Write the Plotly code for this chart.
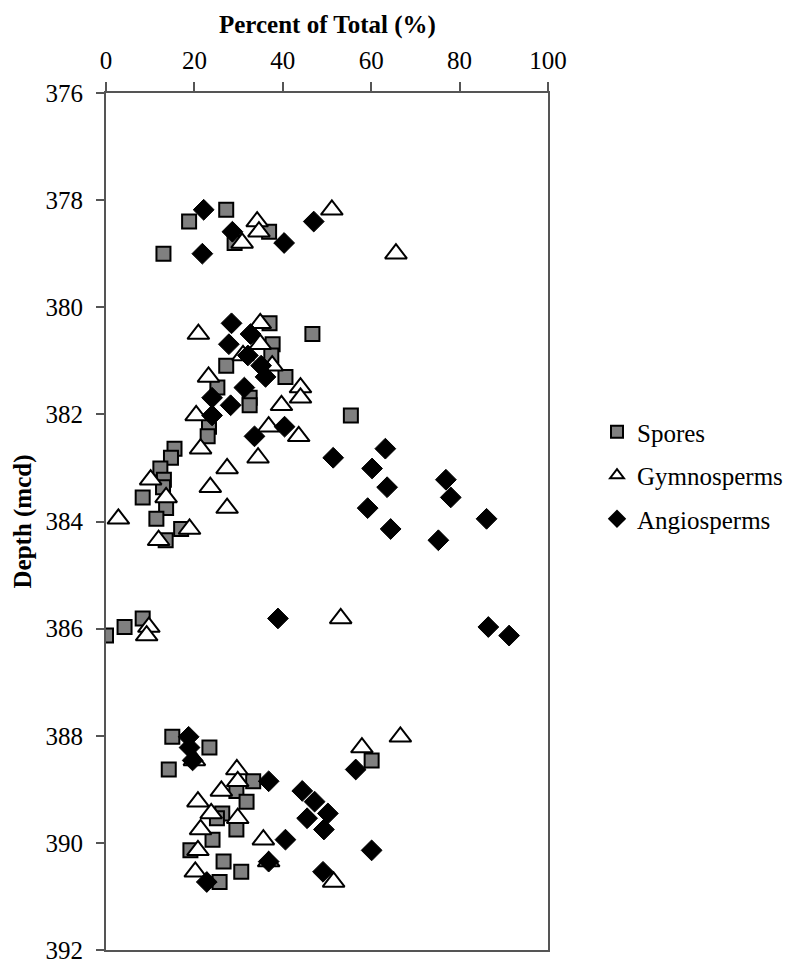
import plotly.graph_objects as go

depth_mcd = [378.18, 378.40, 378.59, 378.80, 379.00,
             380.30, 380.50, 380.69, 380.90, 381.09, 381.30, 381.50, 381.69, 381.83, 382.02,
             382.23, 382.41, 382.64, 382.81, 383.01, 383.22, 383.36, 383.55, 383.75, 383.95,
             384.14, 384.35,
             385.81, 385.97, 386.13,
             388.02, 388.22, 388.46, 388.63, 388.85, 389.03, 389.23, 389.45, 389.54, 389.75,
             389.94, 390.14, 390.35, 390.54, 390.73]

spores = [27.2, 18.8, 36.9, 29.1, 13.0,
          37.0, 46.7, 37.7, 37.4, 27.2, 40.6, 25.2, 32.5, 32.5, 55.4, 23.3, 23.0, 15.5, 14.7,
          12.3, 13.1, 12.9, 8.3, 13.6, 11.4, 17.0, 13.5,
          8.3, 4.2, 0.0,
          15.0, 23.4, 60.1, 14.2, 33.3, 29.5, 31.8, 26.3, 25.1, 29.5, 24.1, 19.1, 26.6, 30.6, 25.7]

gymnosperms = [51.1, 34.2, 34.6, 30.8, 65.6,
               34.9, 20.9, 34.9, 31.0, 37.6, 23.2, 44.0, 44.0, 39.7, 20.4, 36.8, 43.6, 21.4, 34.4,
               27.4, 10.1, 23.6, 13.6, 27.4, 2.8, 18.9, 11.9,
               53.1, 9.7, 9.2,
               66.6, 57.9, 20.0, 29.6, 29.8, 26.1, 20.8, 23.8, 29.8, 21.4, 35.6, 20.8, 36.8, 20.2, 51.5]

angiosperms = [22.1, 47.0, 28.6, 40.3, 21.8,
               28.4, 32.7, 27.8, 32.1, 35.1, 36.1, 31.3, 24.0, 28.2, 24.0, 40.4, 33.6, 63.2, 51.4,
               60.2, 76.9, 63.6, 78.0, 59.2, 86.1, 64.4, 75.2,
               38.9, 86.5, 91.2,
               18.7, 18.9, 19.6, 56.5, 36.8, 44.4, 47.2, 50.2, 45.5, 49.3, 40.6, 60.1, 36.8, 49.1, 22.8]

x_ticks = [0, 20, 40, 60, 80, 100]
y_ticks = [376, 378, 380, 382, 384, 386, 388, 390, 392]

FONT = "Liberation Serif, Times New Roman, serif"

# page body has an 8px default margin; size the figure so the plot area lands where the reference has it
FIG_W, FIG_H = 785, 958
ML, MR, MT, MB = 98, 245, 85, 16
PW = FIG_W - ML - MR
PH = FIG_H - MT - MB

fig = go.Figure()
fig.add_trace(go.Scatter(
    x=spores, y=depth_mcd, mode="markers", name="Spores", legendgroup="s",
    marker=dict(symbol="square", size=14, color="#808080", line=dict(color="black", width=2)),
))
fig.add_trace(go.Scatter(
    x=gymnosperms, y=depth_mcd, mode="markers", name="Gymnosperms", legendgroup="g",
    marker=dict(symbol="triangle-up", size=19, color="white", line=dict(color="black", width=2)),
))
fig.add_trace(go.Scatter(
    x=angiosperms, y=depth_mcd, mode="markers", name="Angiosperms", legendgroup="a",
    marker=dict(symbol="diamond", size=16, color="black", line=dict(color="black", width=1)),
))

axis_common = dict(showgrid=False, zeroline=False, showline=True, linecolor="#555555",
                   linewidth=2, mirror=True, ticks="outside", tickwidth=1.5,
                   tickcolor="#555555", automargin=False,
                   tickfont=dict(family=FONT, size=25, color="black"))

fig.update_xaxes(range=[0, 100], side="top", tickvals=x_ticks, ticklen=9,
                 ticklabelstandoff=3, **axis_common)
fig.update_yaxes(range=[392, 376], tickvals=y_ticks, ticklen=8,
                 ticklabelstandoff=8, **axis_common)

fig.update_layout(
    width=FIG_W, height=FIG_H,
    margin=dict(l=ML, r=MR, t=MT, b=MB, autoexpand=False),
    plot_bgcolor="white", paper_bgcolor="white",
    font=dict(family=FONT, color="black"),
    showlegend=True,
    legend=dict(x=(597 - 106) / PW, y=1 - (409 - 93) / PH, xanchor="left", yanchor="top",
                font=dict(family=FONT, size=25, color="black"),
                tracegroupgap=8, itemsizing="constant", bgcolor="rgba(0,0,0,0)"),
    annotations=[
        dict(text="<b>Percent of Total (%)</b>", xref="paper", yref="paper",
             x=0.5, y=1 + (93 - 25) / PH, xanchor="center", yanchor="middle",
             showarrow=False, font=dict(family=FONT, size=25, color="black")),
        dict(text="<b>Depth (mcd)</b>", xref="paper", yref="paper",
             x=(22 - 106) / PW, y=0.5, xanchor="center", yanchor="middle", textangle=-90,
             showarrow=False, font=dict(family=FONT, size=25, color="black")),
    ],
)

fig.write_html("out.html")
